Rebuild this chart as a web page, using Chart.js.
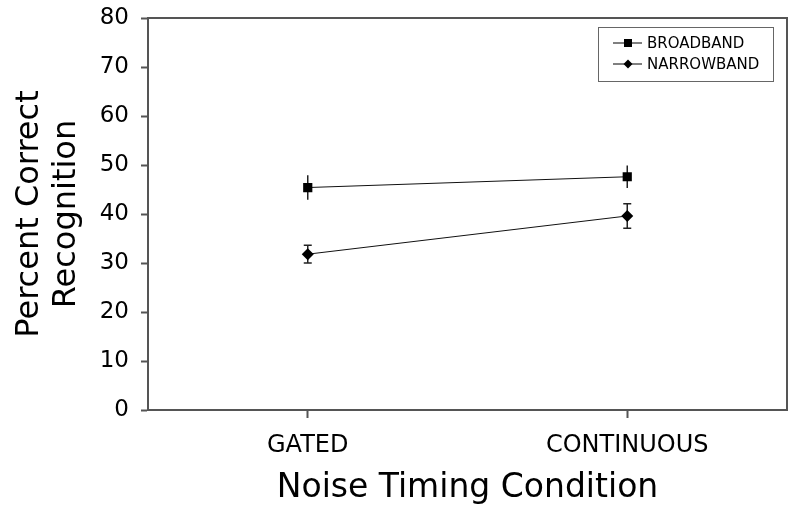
<!DOCTYPE html>
<html>
<head>
<meta charset="utf-8">
<script src="https://cdn.jsdelivr.net/npm/chart.js@4"></script>
<style>
  html, body { margin: 0; padding: 0; background: #fff; }
</style>
</head>
<body>
<canvas id="chart" width="800" height="512"></canvas>
<script>
const categories = ['GATED', 'CONTINUOUS'];
const broadband = [45.4, 47.6];
const broadbandErr = [2.5, 2.3];
const narrowband = [31.8, 39.6];
const narrowbandErr = [1.8, 2.5];
const yTicks = [0, 10, 20, 30, 40, 50, 60, 70, 80];

const FONT = '"DejaVu Sans", Verdana, sans-serif';
const AXIS = '#555';

// error bars, drawn under the markers
const errorBars = {
  id: 'errorBars',
  beforeDatasetsDraw(chart) {
    const ctx = chart.ctx;
    const y = chart.scales.y;
    chart.data.datasets.forEach((ds, i) => {
      const meta = chart.getDatasetMeta(i);
      ctx.save();
      ctx.strokeStyle = '#222';
      ctx.lineWidth = 1.5;
      meta.data.forEach((pt, j) => {
        const top = y.getPixelForValue(ds.data[j] + ds.errors[j]);
        const bot = y.getPixelForValue(ds.data[j] - ds.errors[j]);
        ctx.beginPath();
        ctx.moveTo(pt.x, top);
        ctx.lineTo(pt.x, bot);
        if (ds.cap) {
          ctx.moveTo(pt.x - ds.cap, top);
          ctx.lineTo(pt.x + ds.cap, top);
          ctx.moveTo(pt.x - ds.cap, bot);
          ctx.lineTo(pt.x + ds.cap, bot);
        }
        ctx.stroke();
      });
      ctx.restore();
    });
  }
};

// top and right sides of the plot frame
const frame = {
  id: 'frame',
  afterDraw(chart) {
    const {ctx, chartArea: a} = chart;
    ctx.save();
    ctx.strokeStyle = AXIS;
    ctx.lineWidth = 2;
    ctx.beginPath();
    ctx.moveTo(a.left, a.top);
    ctx.lineTo(a.right, a.top);
    ctx.lineTo(a.right, a.bottom);
    ctx.stroke();
    ctx.restore();
  }
};

// legend box in the upper right corner
const boxLegend = {
  id: 'boxLegend',
  afterDraw(chart) {
    const ctx = chart.ctx;
    const bx = 598, by = 27, bw = 175, bh = 54;
    ctx.save();
    ctx.strokeStyle = '#666';
    ctx.lineWidth = 1;
    ctx.strokeRect(bx + 0.5, by + 0.5, bw, bh);
    chart.data.datasets.forEach((ds, i) => {
      const cy = 43 + i * 21;
      ctx.strokeStyle = '#000';
      ctx.lineWidth = 1;
      ctx.beginPath();
      ctx.moveTo(613, cy);
      ctx.lineTo(642, cy);
      ctx.stroke();
      ctx.fillStyle = '#000';
      ctx.beginPath();
      if (ds.pointStyle === 'rect') {
        ctx.rect(624, cy - 4, 8, 8);
      } else {
        ctx.moveTo(628, cy - 4.5);
        ctx.lineTo(632.5, cy);
        ctx.lineTo(628, cy + 4.5);
        ctx.lineTo(623.5, cy);
        ctx.closePath();
      }
      ctx.fill();
      ctx.font = '15px ' + FONT;
      ctx.textBaseline = 'middle';
      ctx.fillText(ds.label, 647, cy + 1);
    });
    ctx.restore();
  }
};

new Chart(document.getElementById('chart'), {
  type: 'line',
  data: {
    labels: categories,
    datasets: [
      {
        label: 'BROADBAND',
        data: broadband,
        errors: broadbandErr,
        cap: 0,
        borderColor: '#111',
        backgroundColor: '#000',
        borderWidth: 1,
        pointStyle: 'rect',
        pointRadius: 6.5,
        pointBorderWidth: 0,
      },
      {
        label: 'NARROWBAND',
        data: narrowband,
        errors: narrowbandErr,
        cap: 4,
        borderColor: '#111',
        backgroundColor: '#000',
        borderWidth: 1,
        pointStyle: 'rectRot',
        pointRadius: 6,
        pointBorderWidth: 0,
      }
    ]
  },
  options: {
    responsive: false,
    animation: false,
    layout: { padding: { top: 18, right: 13, left: 0, bottom: 0 } },
    plugins: {
      legend: { display: false },
      tooltip: { enabled: false },
    },
    scales: {
      x: {
        offset: true,
        afterFit: (s) => { s.height = 102; s.paddingLeft = 0; s.paddingRight = 0; },
        grid: { drawOnChartArea: false, offset: false, tickLength: 8, color: AXIS, tickWidth: 2 },
        border: { color: AXIS, width: 2 },
        ticks: { color: '#000', padding: 13, font: { family: FONT, size: 24 } },
        title: {
          display: true,
          text: 'Noise Timing Condition',
          color: '#000',
          padding: { top: 0, bottom: 4 },
          font: { family: FONT, size: 33, lineHeight: 1.2 }
        }
      },
      y: {
        min: 0,
        max: 80,
        afterFit: (s) => { s.width = 148; s.paddingTop = 0; s.paddingBottom = 0; },
        afterBuildTicks: (s) => { s.ticks = yTicks.map(v => ({ value: v })); },
        grid: { drawOnChartArea: false, tickLength: 7, color: AXIS, tickWidth: 2 },
        border: { color: AXIS, width: 2 },
        ticks: { color: '#000', padding: 12, font: { family: FONT, size: 23 } },
        title: {
          display: true,
          text: ['Percent Correct', 'Recognition'],
          color: '#000',
          padding: { top: 11, bottom: 0 },
          font: { family: FONT, size: 32, lineHeight: 1.15 }
        }
      }
    }
  },
  plugins: [errorBars, frame, boxLegend]
});
</script>
</body>
</html>
